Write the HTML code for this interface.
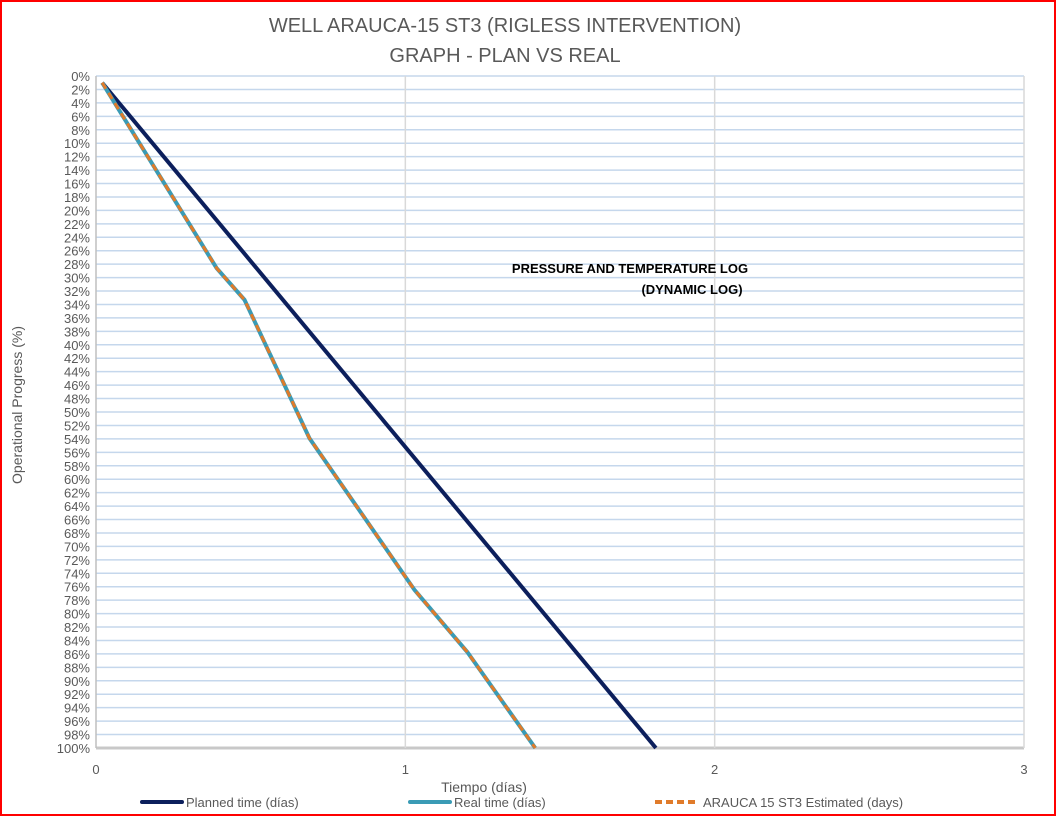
<!DOCTYPE html>
<html><head><meta charset="utf-8"><style>
html,body{margin:0;padding:0;background:#fff;}
svg{display:block;font-family:"Liberation Sans",sans-serif;}
</style></head><body>
<svg id="chart" width="1056" height="816" viewBox="0 0 1056 816">
<rect x="1" y="1" width="1054" height="814" fill="#fff" stroke="#ff0000" stroke-width="2"/>
<text x="505" y="32" text-anchor="middle" font-size="20" fill="#595959">WELL ARAUCA-15 ST3 (RIGLESS INTERVENTION)</text>
<text x="505" y="62" text-anchor="middle" font-size="20" fill="#595959">GRAPH  - PLAN VS REAL</text>
<g id="grid"></g>
<g id="yticks"></g>
<g id="xticks"></g>
<g id="series"></g>
<text x="630" y="273" text-anchor="middle" font-size="13" font-weight="bold" fill="#000">PRESSURE AND TEMPERATURE LOG</text>
<text x="692" y="294" text-anchor="middle" font-size="13" font-weight="bold" fill="#000">(DYNAMIC LOG)</text>
<text x="15" y="398" text-anchor="middle" font-size="14" fill="#595959" transform="rotate(-90 22 398)">Operational Progress (%)</text>
<text x="484" y="792" text-anchor="middle" font-size="14" fill="#595959">Tiempo (días)</text>
<g>
<g><line x1="142" y1="802" x2="182" y2="802" stroke="#0c1f5c" stroke-width="4" stroke-linecap="round"/><text x="186" y="807" font-size="13" fill="#595959">Planned time (días)</text></g>
<g><line x1="410" y1="802" x2="450" y2="802" stroke="#3a9bb5" stroke-width="4" stroke-linecap="round"/><text x="454" y="807" font-size="13" fill="#595959">Real time (días)</text></g>
<g><line x1="655" y1="802" x2="697" y2="802" stroke="#e07b2a" stroke-width="4" stroke-dasharray="7,4"/><text x="703" y="807" font-size="13" fill="#595959">ARAUCA 15 ST3 Estimated (days)</text></g>
</g>
</svg>
<script>
const xTicks=[0,1,2,3];
const plannedX=[0.02,1.81];
const plannedY=[1,100];
const realX=[0.02,0.39,0.48,0.69,1.03,1.20,1.42];
const realY=[1,28.6,33.3,53.9,76.5,85.7,100];
const estX=[0.02,0.39,0.48,0.69,1.03,1.20,1.42];
const estY=[1,28.6,33.3,53.9,76.5,85.7,100];
const X0=96,X1=1024,Y0=76,Y1=748;
const sx=v=>X0+(X1-X0)*v/3;
const sy=v=>Y0+(Y1-Y0)*v/100;
const NS="http://www.w3.org/2000/svg";
function mk(t,a,p){const e=document.createElementNS(NS,t);for(const k in a)e.setAttribute(k,a[k]);p.appendChild(e);return e;}
const grid=document.getElementById('grid'),yt=document.getElementById('yticks'),xt=document.getElementById('xticks'),ser=document.getElementById('series');
for(let p=0;p<=100;p+=2){
 const g=mk('line',{x1:X0,x2:X1,y1:sy(p),y2:sy(p),stroke:p===100?'#c8c8c8':'#c5d7ec','stroke-width':p===100?3:1.5},grid);
 
 
 const t=mk('text',{x:X0-6,y:sy(p)+5,'text-anchor':'end','font-size':13,fill:'#595959'},yt);
 t.textContent=p+'%';
 
 
}
xTicks.forEach(v=>{
 if(v>0){const g=mk('line',{x1:sx(v),x2:sx(v),y1:Y0,y2:Y1,stroke:'#d9d9d9','stroke-width':1.5},grid);
 
 }
 const t=mk('text',{x:sx(v),y:774,'text-anchor':'middle','font-size':13,fill:'#595959'},xt);
 t.textContent=v;
 
 
});
const ax=mk('line',{x1:X0,x2:X0,y1:Y0,y2:Y1,stroke:'#bfbfbf','stroke-width':1.5},grid);


function pts(xs,ys){return xs.map((x,i)=>sx(x)+','+sy(ys[i])).join(' ');}
const l1=mk('polyline',{points:pts(plannedX,plannedY),fill:'none',stroke:'#0c1f5c','stroke-width':4},ser);


const l2=mk('polyline',{points:pts(realX,realY),fill:'none',stroke:'#3a9bb5','stroke-width':4},ser);


const l3=mk('polyline',{points:pts(estX,estY),fill:'none',stroke:'#e07b2a','stroke-width':3,'stroke-dasharray':'7,5'},ser);


</script>
</body></html>
